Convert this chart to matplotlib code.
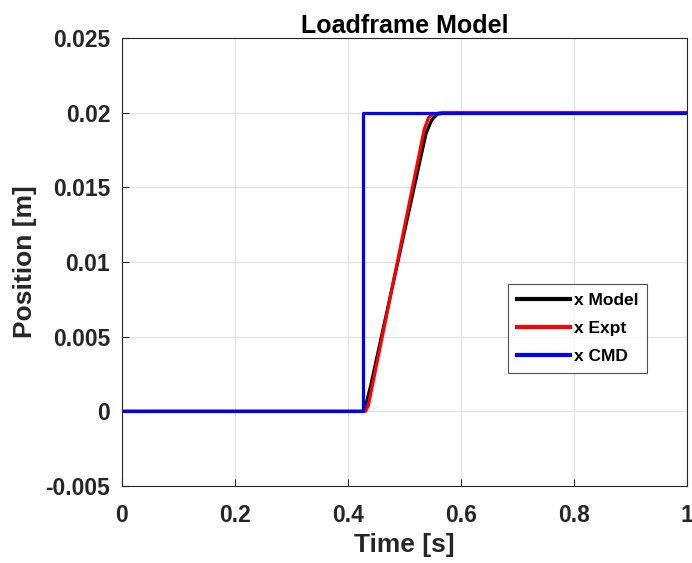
import matplotlib
matplotlib.use("Agg")
import matplotlib.pyplot as plt

plt.rcParams['font.family'] = ['Liberation Sans', 'DejaVu Sans']
plt.rcParams['font.weight'] = 'bold'

# Model response
t_model = [0, 0.427, 0.430, 0.440, 0.538, 0.548, 0.558, 0.575, 0.60, 1.0]
x_model = [0, 0, 0.0002, 0.0017, 0.0186, 0.0195, 0.0199, 0.02, 0.02, 0.02]

# Experiment
t_expt = [0, 0.431, 0.436, 0.535, 0.543, 0.552, 0.565, 0.60, 1.0]
x_expt = [0, 0, 0.0004, 0.0189, 0.0197, 0.0199, 0.02, 0.02, 0.02]

# Command (step)
t_cmd = [0, 0.427, 0.427, 1.0]
x_cmd = [0, 0, 0.02, 0.02]

fig = plt.figure(figsize=(6.92, 5.63), dpi=100)
ax = fig.add_axes([0.1763, 0.1368, 0.8165, 0.7957])

ax.plot(t_model, x_model, color='black', lw=2.3, label='x Model')
ax.plot(t_expt, x_expt, color='red', lw=2.3, label='x Expt')
ax.plot(t_cmd, x_cmd, color='blue', lw=2.3, label='x CMD')

ax.set_xlim(0, 1)
ax.set_ylim(-0.005, 0.025)
ax.set_xticks([0, 0.2, 0.4, 0.6, 0.8, 1])
ax.set_xticklabels(['0', '0.2', '0.4', '0.6', '0.8', '1'])
ax.set_yticks([-0.005, 0, 0.005, 0.01, 0.015, 0.02, 0.025])
ax.set_yticklabels(['-0.005', '0', '0.005', '0.01', '0.015', '0.02', '0.025'])
ax.tick_params(direction='in', labelsize=16.5, colors='#262626', length=5)
ax.tick_params(axis='x', pad=13)
ax.tick_params(axis='y', pad=8.5)
for lbl in ax.get_xticklabels() + ax.get_yticklabels():
    lbl.set_fontweight('bold')
ax.grid(True, color='#e0e0e0', lw=0.8)
ax.set_axisbelow(True)
for s in ax.spines.values():
    s.set_color('#262626')
    s.set_linewidth(0.8)

ax.set_xlabel('Time [s]', fontsize=19, fontweight='bold', color='#262626', labelpad=4)
ax.set_ylabel('Position [m]', fontsize=19, fontweight='bold', color='#262626', labelpad=6)
ax.set_title('Loadframe Model', fontsize=18, fontweight='bold', pad=3)

leg = ax.legend(loc='upper left', bbox_to_anchor=(0.683, 0.451), fancybox=False,
                edgecolor='#262626', fontsize=12.5, handlelength=3.1,
                handletextpad=0.2, borderpad=0.5, labelspacing=0.75,
                borderaxespad=0)
leg.get_frame().set_linewidth(0.8)
for txt in leg.get_texts():
    txt.set_fontweight('bold')
for line in leg.get_lines():
    line.set_linewidth(3)

fig.savefig('out.png', dpi=100)
